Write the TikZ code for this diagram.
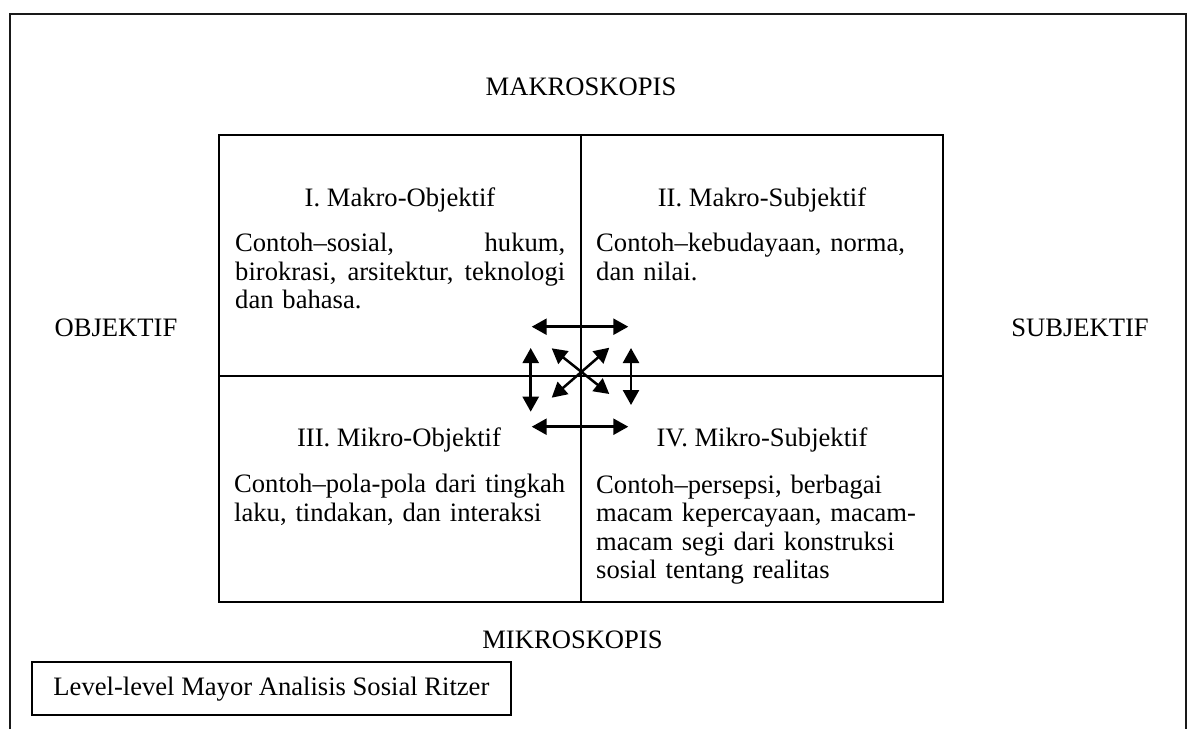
\documentclass[tikz,border=0pt]{standalone}
\usepackage{fontspec}
\setmainfont{Liberation Serif}
\usetikzlibrary{arrows.meta}
\begin{document}
\begin{tikzpicture}[x=1pt,y=-1pt,
  txt/.style={font=\fontsize{26.6}{28.4}\selectfont, inner sep=0pt},
  frame/.style={line width=2.2pt, draw=black!90},
  gridline/.style={line width=2pt},
  arr/.style={line width=2.5pt, {Triangle[length=15pt,width=16pt]}-{Triangle[length=15pt,width=16pt]}},
  body/.style={txt, text width=340pt, align=left, anchor=base west},
  head/.style={txt, anchor=base},
]
\useasboundingbox (0,0) rectangle (1193,729);
% outer frame (open at the bottom)
\draw[frame] (10,729) -- (10,14) -- (1186,14) -- (1186,729);
% grid
\draw[gridline] (219,135) rectangle (943,602);
\draw[gridline] (581,135) -- (581,602);
\draw[gridline] (219,376) -- (943,376);
% axis labels
\node[head] (makro) at (581,95) {MAKROSKOPIS};
\node[head] (mikro) at (572.5,648) {MIKROSKOPIS};
\node[head] (obj) at (116,336) {OBJEKTIF};
\node[head] (subj) at (1080,336) {SUBJEKTIF};
% quadrant headings
\node[head] (h1) at (400,206) {I. Makro-Objektif};
\node[head] (h2) at (762,206) {II. Makro-Subjektif};
\node[head] (h3) at (399,446.7) {III. Mikro-Objektif};
\node[head] (h4) at (762,446.7) {IV. Mikro-Subjektif};
% quadrant bodies
\node[body] (b1) at (235,251.7) {\makebox[330pt][l]{Contoh–sosial,\hfill hukum,}\\\makebox[330pt][l]{birokrasi,\hfill arsitektur,\hfill teknologi}\\dan bahasa.};
\node[body] (b2) at (596,251.7) {Contoh–kebudayaan, norma,\\dan nilai.};
\node[body] (b3) at (234,492.7) {Contoh–pola-pola dari tingkah\\laku, tindakan, dan interaksi};
\node[body] (b4) at (596,493.3) {Contoh–persepsi, berbagai\\macam kepercayaan, macam-\\macam segi dari konstruksi\\sosial tentang realitas};
% caption box
\node[txt, draw, line width=2pt, minimum width=479pt, minimum height=52.5pt] (cap) at (271.4,688.7) {Level-level Mayor Analisis Sosial Ritzer};
% arrow end points
\coordinate (tl) at (531.7,326.7); \coordinate (tr) at (628.3,326.7);
\coordinate (bl) at (531.7,426.7); \coordinate (br) at (628.3,426.7);
\coordinate (lt) at (530.7,348); \coordinate (lb) at (530.7,411.7);
\coordinate (rt) at (631,348); \coordinate (rb) at (631,405);
\coordinate (nw) at (551.7,348.3); \coordinate (se) at (609.3,394);
\coordinate (ne) at (609.3,347.7); \coordinate (sw) at (551.7,397.7);
\draw[arr] (tl) -- (tr);
\draw[arr] (bl) -- (br);
\draw[arr] (lt) -- (lb);
\draw[arr] (rt) -- (rb);
\draw[arr] (nw) -- (se);
\draw[arr] (ne) -- (sw);
\end{tikzpicture}
\end{document}
